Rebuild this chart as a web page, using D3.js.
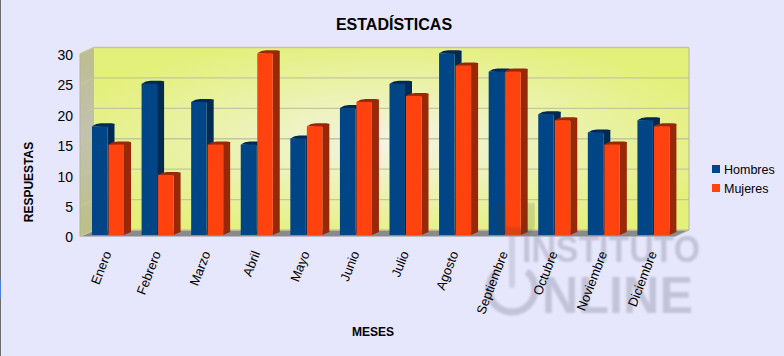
<!DOCTYPE html>
<html>
<head>
<meta charset="utf-8">
<script src="https://d3js.org/d3.v7.min.js"></script>
<style>
    html, body { margin: 0; padding: 0; background: #e6e6fc; overflow: hidden; }
    svg { display: block; font-family: "Liberation Sans", Arial, sans-serif; }
    .axis path, .axis line { display: none; }
</style>
</head>
<body>
<div id="vis"></div>
<script>
    const meses = ["Enero", "Febrero", "Marzo", "Abril", "Mayo", "Junio", "Julio", "Agosto", "Septiembre", "Octubre", "Noviembre", "Diciembre"];
    const hombres = [18, 25, 22, 15, 16, 21, 25, 30, 27, 20, 17, 19];
    const mujeres = [15, 10, 15, 30, 18, 22, 23, 28, 27, 19, 15, 18];
    const series = ["Hombres", "Mujeres"];
    const yTicks = [0, 5, 10, 15, 20, 25, 30];

    const width = 784, height = 356;
    const svg = d3.select("#vis").append("svg").attr("width", width).attr("height", height);
    const defs = svg.append("defs");

    // front edge of the 3d box and how far the back wall is pushed
    const boxLeft = 80, boxRight = 675, boxBottom = 236.5, boxTop = 54;
    const depthX = 14, depthY = -6.5;

    const x = d3.scaleBand().domain(meses).range([boxLeft, boxRight]);
    const xSerie = d3.scaleBand().domain(series).range([0, 33]);
    const y = d3.scaleLinear().domain([0, 30]).range([boxBottom, boxTop]);
    const color = d3.scaleOrdinal().domain(series).range(["#004586", "#ff420e"]);
    const sideColor = d3.scaleOrdinal().domain(series).range(["#002a52", "#992808"]);

    const wallGrad = defs.append("radialGradient").attr("id", "wall").attr("cx", "50%").attr("cy", "52%").attr("r", "58%");
    wallGrad.append("stop").attr("offset", "0%").attr("stop-color", "#f3f4e4");
    wallGrad.append("stop").attr("offset", "100%").attr("stop-color", "#e3f07a");
    const sideGrad = defs.append("linearGradient").attr("id", "side").attr("x1", 0).attr("x2", 0).attr("y1", 0).attr("y2", 1);
    sideGrad.append("stop").attr("offset", "0%").attr("stop-color", "#bcbd8e");
    sideGrad.append("stop").attr("offset", "45%").attr("stop-color", "#c2c2b0");
    sideGrad.append("stop").attr("offset", "100%").attr("stop-color", "#bcc082");
    defs.append("filter").attr("id", "blur").append("feGaussianBlur").attr("stdDeviation", 1);

    // page edge
    svg.append("rect").attr("x", 0).attr("y", 0).attr("width", 1).attr("height", height).attr("fill", "#6e6e6e");
    svg.append("rect").attr("x", 0).attr("y", 280).attr("width", 1).attr("height", 18).attr("fill", "#4a7fe0");

    const box = svg.append("g");
    box.append("rect")
        .attr("x", boxLeft + depthX).attr("y", boxTop + depthY)
        .attr("width", boxRight - boxLeft).attr("height", boxBottom - boxTop)
        .attr("fill", "url(#wall)");
    box.append("path")
        .attr("d", `M${boxLeft},${boxTop}L${boxLeft + depthX},${boxTop + depthY}V${boxBottom + depthY}L${boxLeft},${boxBottom}Z`)
        .attr("fill", "url(#side)");
    box.append("path")
        .attr("d", `M${boxLeft},${boxBottom}L${boxLeft + depthX},${boxBottom + depthY}H${boxRight + depthX}L${boxRight},${boxBottom}Z`)
        .attr("fill", "#8a8a8a");

    // grid runs along the left wall and the back wall
    box.selectAll(".grid")
        .data(yTicks)
        .join("path")
        .attr("class", "grid")
        .attr("fill", "none")
        .attr("stroke", "#c6c69c")
        .attr("stroke-width", 1.4)
        .attr("d", d => `M${boxLeft},${y(d)}L${boxLeft + depthX},${y(d) + depthY}H${boxRight + depthX}`);
    box.append("path")
        .attr("fill", "none").attr("stroke", "#b4b4a0")
        .attr("d", `M${boxLeft},${boxTop}V${boxBottom}M${boxRight + depthX},${boxTop + depthY}V${boxBottom + depthY}L${boxRight},${boxBottom}`);

    // bars
    const barOffset = 12, barLift = -0.7, sideX = 7, sideY = -3;
    const rows = meses.flatMap((m, i) => [
        { mes: m, serie: "Hombres", valor: hombres[i] },
        { mes: m, serie: "Mujeres", valor: mujeres[i] }
    ]);
    const barX = d => x(d.mes) + barOffset + xSerie(d.serie);
    const barY = d => y(d.valor) + barLift;
    const bw = xSerie.bandwidth();
    const base = boxBottom - 1.5;

    const bars = svg.append("g").selectAll("g").data(rows).join("g");
    bars.append("path")
        .attr("fill", d => sideColor(d.serie))
        .attr("d", d => {
            const x0 = barX(d) + bw - 1, y0 = barY(d);
            return `M${x0},${base}V${y0}L${x0 + sideX},${y0 + sideY + 1}V${base + sideY}Z`;
        });
    bars.append("path")
        .attr("fill", d => sideColor(d.serie))
        .attr("d", d => {
            const x0 = barX(d), y0 = barY(d);
            return `M${x0},${y0}Q${x0 + 4},${y0 + sideY} ${x0 + sideX + 2},${y0 + sideY}H${x0 + bw + sideX - 4}Q${x0 + bw + sideX},${y0 + sideY} ${x0 + bw + sideX - 1},${y0 + sideY + 1.5}L${x0 + bw - 1},${y0 + 1}Z`;
        });
    bars.append("rect")
        .attr("fill", d => color(d.serie))
        .attr("x", barX)
        .attr("y", barY)
        .attr("width", bw - 1)
        .attr("height", d => base - barY(d));

    // watermark
    const mark = svg.append("g").attr("fill", "#85859a").attr("opacity", 0.36).attr("filter", "url(#blur)");
    mark.append("text").attr("x", 522).attr("y", 262).attr("font-size", 37).attr("font-weight", "bold")
        .attr("textLength", 178).attr("lengthAdjust", "spacingAndGlyphs").text("INSTITUTO");
    mark.append("text").attr("x", 542).attr("y", 313).attr("font-size", 52).attr("font-weight", "bold")
        .attr("textLength", 151).attr("lengthAdjust", "spacingAndGlyphs").text("NLINE");
    mark.append("path")
        .attr("fill", "none").attr("stroke", "#85859a").attr("stroke-width", 7)
        .attr("d", d3.arc().innerRadius(23).outerRadius(23).startAngle(0.7).endAngle(2 * Math.PI - 0.7)())
        .attr("transform", "translate(512,289)");
    mark.append("rect").attr("x", 509).attr("y", 234).attr("width", 6).attr("height", 54).attr("rx", 3).attr("opacity", 0.7);
    svg.append("path")
        .attr("fill", "none").attr("stroke", "#3a3a3a").attr("stroke-width", 9).attr("opacity", 0.16)
        .attr("filter", "url(#blur)")
        .attr("d", "M500,203V222Q500,232 510,232H520Q531,232 531,222V203");

    // axes
    const yAxis = svg.append("g").attr("class", "axis")
        .attr("transform", `translate(${boxLeft},1)`)
        .call(d3.axisLeft(y).tickValues(yTicks).tickSize(0).tickPadding(7));
    yAxis.selectAll("text").attr("font-size", 14).attr("font-family", "Liberation Sans").attr("fill", "#000");

    const xAxis = svg.append("g").attr("class", "axis")
        .attr("transform", `translate(0,${boxBottom})`)
        .call(d3.axisBottom(x).tickSize(0));
    xAxis.selectAll("text")
        .attr("font-size", 13).attr("font-family", "Liberation Sans").attr("fill", "#000")
        .attr("text-anchor", "end")
        .attr("dy", "0.35em").attr("x", 0).attr("y", 0)
        .attr("transform", "translate(2.5,15) rotate(-69)");

    svg.append("text").attr("x", 394).attr("y", 30).attr("text-anchor", "middle")
        .attr("font-size", 16).attr("font-weight", "bold").text("ESTADÍSTICAS");
    svg.append("text").attr("x", 373).attr("y", 336).attr("text-anchor", "middle")
        .attr("font-size", 12).attr("font-weight", "bold").text("MESES");
    svg.append("text").attr("transform", "translate(33,182) rotate(-90)").attr("text-anchor", "middle")
        .attr("font-size", 12).attr("font-weight", "bold").text("RESPUESTAS");

    // legend
    const legend = svg.append("g").selectAll("g").data(series).join("g")
        .attr("transform", (d, i) => `translate(712,${165 + i * 19})`);
    legend.append("rect").attr("width", 8).attr("height", 8).attr("fill", d => color(d));
    legend.append("text").attr("x", 12).attr("y", 9).attr("font-size", 12.5).text(d => d);
</script>
</body>
</html>
